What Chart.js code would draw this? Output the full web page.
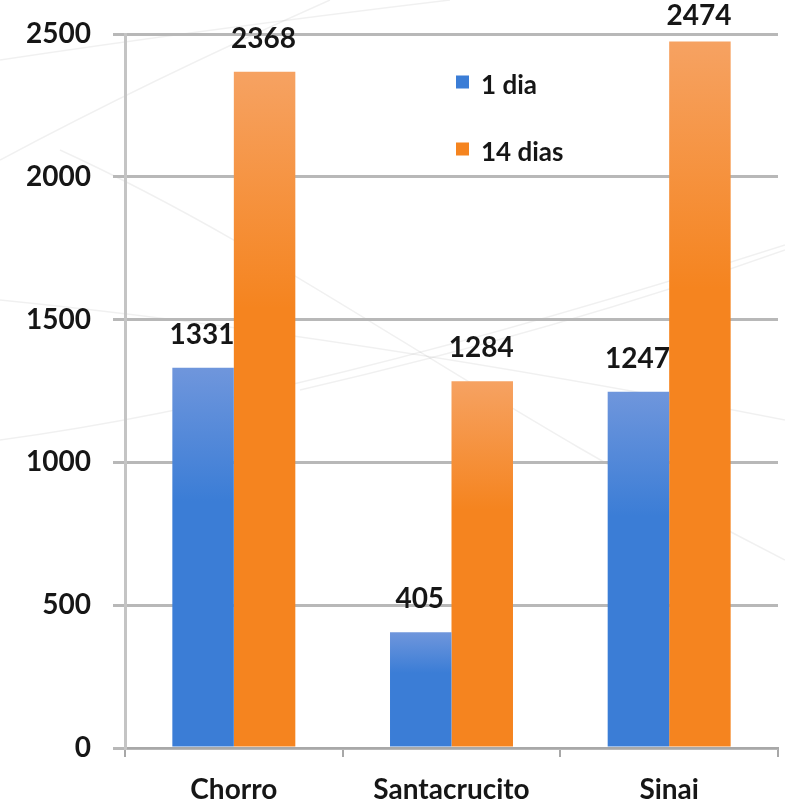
<!DOCTYPE html>
<html>
<head>
<meta charset="utf-8">
<script src="https://cdn.jsdelivr.net/npm/chart.js@4/dist/chart.umd.min.js"></script>
<style>
  html, body { margin: 0; padding: 0; background: #ffffff; }
  #wrap { width: 785px; height: 812px; }
</style>
</head>
<body>
<div id="wrap"><canvas id="c" width="785" height="812"></canvas></div>
<script>
// Sites and counts after 1 and 14 days
const categories = ['Chorro', 'Santacrucito', 'Sinai'];
const seriesNames = ['1 dia', '14 dias'];
const oneDay = [1331, 405, 1247];
const fourteenDays = [2368, 1284, 2474];
const yTicks = [0, 500, 1000, 1500, 2000, 2500];

const FONT = 'Lato, "DejaVu Sans", sans-serif';
const TEXT = '#161616';

// vertical gradient per bar: lighter at the top, saturated at the base
function barFill(light, dark) {
  return (ctx) => {
    const chart = ctx.chart;
    const ys = chart.scales.y;
    if (!chart.chartArea || !ys || ctx.raw == null) return dark;
    const top = ys.getPixelForValue(ctx.raw);
    const base = ys.getPixelForValue(0);
    const g = chart.ctx.createLinearGradient(0, top, 0, base);
    g.addColorStop(0, light);
    g.addColorStop(0.35, dark);
    g.addColorStop(1, dark);
    return g;
  };
}

// faint decorative curves behind the plot
const backdrop = {
  id: 'backdrop',
  beforeDraw(chart) {
    const c = chart.ctx;
    c.save();
    c.strokeStyle = 'rgba(0,0,0,0.06)';
    c.lineWidth = 1.5;
    const curves = [
      [[0, 440], [300, 400], [785, 245]],
      [[0, 160], [150, 80], [330, 0]],
      [[0, 60], [200, 30], [450, 0]],
      [[60, 150], [300, 260], [470, 400], [785, 560]],
      [[300, 390], [560, 330], [785, 250]],
      [[0, 300], [350, 335], [785, 420]]
    ];
    curves.forEach(pts => {
      c.beginPath();
      c.moveTo(pts[0][0], pts[0][1]);
      if (pts.length === 3) {
        c.quadraticCurveTo(pts[1][0], pts[1][1], pts[2][0], pts[2][1]);
      } else {
        c.bezierCurveTo(pts[1][0], pts[1][1], pts[2][0], pts[2][1], pts[3][0], pts[3][1]);
      }
      c.stroke();
    });
    c.restore();
  }
};

// value labels above each bar, kept inside the canvas
const valueLabels = {
  id: 'valueLabels',
  afterDatasetsDraw(chart) {
    const c = chart.ctx;
    c.save();
    c.font = 'bold 28px ' + FONT;
    c.fillStyle = TEXT;
    c.textAlign = 'center';
    c.textBaseline = 'middle';
    chart.data.datasets.forEach((ds, di) => {
      chart.getDatasetMeta(di).data.forEach((bar, i) => {
        const y = Math.max(bar.y - 33, 16);
        c.fillText(String(ds.data[i]), bar.x - 1, y);
      });
    });
    c.restore();
  }
};

// legend placed inside the plot area
const innerLegend = {
  id: 'innerLegend',
  afterDraw(chart) {
    const c = chart.ctx;
    c.save();
    c.font = 'bold 26px ' + FONT;
    c.textBaseline = 'middle';
    const x0 = 456, y0 = 86, gap = 67, box = 13;
    chart.data.datasets.forEach((ds, i) => {
      const y = y0 + i * gap;
      c.fillStyle = ds.legendColor;
      c.fillRect(x0, y - box / 2 - 4, box, box);
      c.fillStyle = TEXT;
      c.fillText(ds.label, x0 + 25, y);
    });
    c.restore();
  }
};

new Chart(document.getElementById('c'), {
  type: 'bar',
  data: {
    labels: categories,
    datasets: [
      {
        label: seriesNames[0],
        data: oneDay,
        backgroundColor: barFill('#6f96dc', '#3b7dd6'),
        legendColor: '#3b7dd6'
      },
      {
        label: seriesNames[1],
        data: fourteenDays,
        backgroundColor: barFill('#f6a262', '#f5841f'),
        legendColor: '#f5841f'
      }
    ]
  },
  options: {
    responsive: false,
    animation: false,
    layout: { padding: { top: 34, right: 7, left: 0, bottom: 0 } },
    datasets: { bar: { categoryPercentage: 0.565, barPercentage: 1.0, borderWidth: 0 } },
    plugins: { legend: { display: false }, tooltip: { enabled: false } },
    scales: {
      x: {
        afterFit(s) { s.height = 64; s.paddingLeft = 0; s.paddingRight = 0; },
        grid: { offset: true, drawOnChartArea: false, drawTicks: true, tickLength: 9, color: '#a8a8a8', lineWidth: 2 },
        border: { display: true, color: '#a8a8a8', width: 2 },
        ticks: { color: TEXT, font: { family: FONT, size: 28, weight: 'bold' }, padding: 16 }
      },
      y: {
        min: 0,
        max: 2500,
        afterFit(s) { s.width = 125; s.paddingTop = 0; s.paddingBottom = 0; },
        afterBuildTicks(s) { s.ticks = yTicks.map(v => ({ value: v })); },
        grid: { color: '#b8b8b8', lineWidth: 3, tickLength: 12, drawTicks: true },
        border: { display: true, color: '#c4c4c4', width: 3 },
        ticks: {
          color: TEXT,
          font: { family: FONT, size: 28, weight: 'bold' },
          padding: 22,
          callback: (v) => String(v)
        }
      }
    }
  },
  plugins: [backdrop, valueLabels, innerLegend]
});
</script>
</body>
</html>
